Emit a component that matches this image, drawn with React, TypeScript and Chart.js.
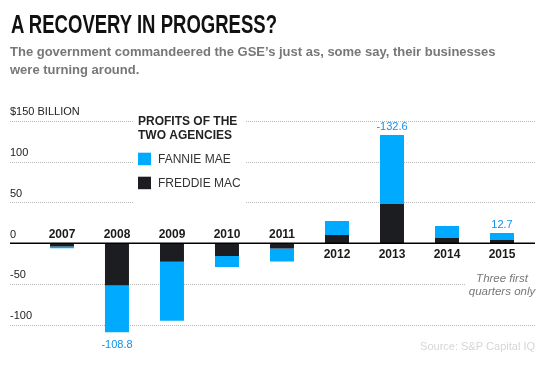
import React, { useEffect, useLayoutEffect, useRef } from 'react';
import { Chart, registerables } from 'chart.js';

Chart.register(...registerables);

// ---------- data ----------
const years = ['2007', '2008', '2009', '2010', '2011', '2012', '2013', '2014', '2015'];
const freddieMac = [-3.8, -51.5, -22.5, -15.5, -6.5, 10.1, 48.0, 6.5, 4.0];
const fannieMae = [-2.4, -57.3, -72.3, -13.5, -15.9, 17.1, 84.6, 14.6, 8.7];
const valueLabels = ['', '-108.8', '', '', '', '', '-132.6', '', '12.7'];
const yTicks = [-100, -50, 0, 50, 100, 150];
const yTickLabels = ['-100', '-50', '0', '50', '100', '$150 BILLION'];
const seriesNames = ['FREDDIE MAC', 'FANNIE MAE'];
const legendTitle = ['PROFITS OF THE', 'TWO AGENCIES'];
const noteLines = ['Three first', 'quarters only'];
const noteIndex = 8;
const titleText = 'A RECOVERY IN PROGRESS?';
const subtitleLines = [
  'The government commandeered the GSE\u2019s just as, some say, their businesses',
  'were turning around.',
];
const sourceText = 'Source: S&P Capital IQ';

// ---------- styles ----------
const FONT = "'Liberation Sans', Arial, Helvetica, sans-serif";
const BLUE = '#00aaff';
const BLACK = '#1c1d21';
const LABEL_BLUE = '#1192e8';
const GRID = '#b8b8b8';

const overlayPlugin = {
  id: 'overlay',
  beforeDatasetsDraw(chart: any) {
    const { ctx, chartArea, scales } = chart;
    const ys = scales.y;
    const xs = scales.x;
    ctx.save();
    ctx.strokeStyle = GRID;
    ctx.lineWidth = 1;
    ctx.setLineDash([1, 1]);
    yTicks.forEach((v) => {
      if (v === 0) return;
      const py = Math.round(ys.getPixelForValue(v)) + 0.5;
      ctx.beginPath();
      ctx.moveTo(chartArea.left, py);
      ctx.lineTo(chartArea.right, py);
      ctx.stroke();
    });
    ctx.setLineDash([]);
    // white backgrounds of legend and note
    ctx.fillStyle = '#ffffff';
    const lx = chartArea.left + 128;
    ctx.fillRect(lx - 5, 108, 113, 97);
    const nx = xs.getPixelForValue(noteIndex);
    const y0 = ys.getPixelForValue(0);
    ctx.fillRect(nx - 36, y0 + 26, 74, 30);
    ctx.restore();
  },
  afterDatasetsDraw(chart: any) {
    const { ctx, chartArea, scales } = chart;
    const ys = scales.y;
    const xs = scales.x;
    const y0 = ys.getPixelForValue(0);
    ctx.save();
    // zero line
    ctx.strokeStyle = '#000';
    ctx.lineWidth = 1.5;
    ctx.beginPath();
    ctx.moveTo(chartArea.left, y0);
    ctx.lineTo(chartArea.right, y0);
    ctx.stroke();

    // year labels
    ctx.font = `bold 12px ${FONT}`;
    ctx.fillStyle = '#1a1a1a';
    ctx.textAlign = 'center';
    ctx.textBaseline = 'alphabetic';
    years.forEach((yr, i) => {
      const total = freddieMac[i] + fannieMae[i];
      const px = xs.getPixelForValue(i);
      const py = total < 0 ? y0 - 5.6 : y0 + 15;
      ctx.fillText(yr, px, py);
    });

    // value labels
    ctx.font = `11px ${FONT}`;
    ctx.fillStyle = LABEL_BLUE;
    valueLabels.forEach((t, i) => {
      if (!t) return;
      const total = freddieMac[i] + fannieMae[i];
      const px = xs.getPixelForValue(i);
      const py = ys.getPixelForValue(total);
      ctx.textBaseline = 'alphabetic';
      ctx.fillText(t, px, total < 0 ? py + 16 : py - 5);
    });

    // note
    ctx.font = `italic 11.5px ${FONT}`;
    ctx.fillStyle = '#777';
    ctx.textAlign = 'center';
    const nx = xs.getPixelForValue(noteIndex);
    noteLines.forEach((t, k) => ctx.fillText(t, nx, y0 + 38.3 + k * 13.5));

    // legend
    const lx = chartArea.left + 128;
    ctx.textAlign = 'left';
    ctx.font = `bold 12px ${FONT}`;
    ctx.fillStyle = '#222';
    legendTitle.forEach((t, k) => ctx.fillText(t, lx, 125 + k * 13.7));
    const order = [1, 0];
    order.forEach((di, k) => {
      const ds = chart.data.datasets[di];
      ctx.fillStyle = ds.backgroundColor;
      ctx.fillRect(lx, 152.7 + k * 24, 13, 12.5);
      ctx.font = `12px ${FONT}`;
      ctx.fillStyle = '#333';
      ctx.fillText(ds.label, lx + 20, 162.5 + k * 24.3);
    });

    // source
    ctx.font = `11px ${FONT}`;
    ctx.fillStyle = '#d6d6d6';
    ctx.textAlign = 'right';
    ctx.fillText(sourceText, chartArea.right, 350);
    ctx.restore();
  },
};

export default function App() {
  const canvasRef = useRef<HTMLCanvasElement | null>(null);
  const titleRef = useRef<HTMLSpanElement | null>(null);

  useLayoutEffect(() => {
    const el = titleRef.current;
    if (!el) return;
    el.style.transform = 'none';
    const w = el.getBoundingClientRect().width;
    if (w > 0) el.style.transform = `scaleX(${266 / w})`;
  }, []);

  useEffect(() => {
    if (!canvasRef.current) return;
    const chart = new Chart(canvasRef.current, {
      type: 'bar',
      data: {
        datasets: [
          {
            label: seriesNames[0],
            data: freddieMac.map((v, i) => ({ x: i, y: v })),
            backgroundColor: BLACK,
            borderWidth: 0,
            stack: 's',
          },
          {
            label: seriesNames[1],
            data: fannieMae.map((v, i) => ({ x: i, y: v })),
            backgroundColor: BLUE,
            borderWidth: 0,
            stack: 's',
          },
        ],
      },
      plugins: [overlayPlugin],
      options: {
        animation: false,
        responsive: false,
        devicePixelRatio: 1,
        layout: { padding: { left: 10, right: 10, top: 108.5, bottom: 21.4 } },
        categoryPercentage: 1,
        barPercentage: 0.727,
        plugins: {
          legend: { display: false },
          tooltip: { enabled: false },
          title: { display: false },
        },
        scales: {
          x: {
            type: 'linear',
            min: -0.945,
            max: 8.6,
            offset: false,
            stacked: true,
            display: false,
            grid: { display: false, offset: false },
          },
          y: {
            type: 'linear',
            min: -135,
            max: 165,
            stacked: true,
            display: true,
            border: { display: false },
            grid: { display: false, drawTicks: false },
            afterBuildTicks: (scale: any) => {
              scale.ticks = yTicks.map((v) => ({ value: v }));
            },
            ticks: {
              mirror: true,
              padding: 0,
              labelOffset: -8.8,
              color: '#222',
              font: { family: FONT, size: 11 },
              callback: (value: any) => {
                const idx = yTicks.indexOf(Number(value));
                return idx >= 0 ? yTickLabels[idx] : '';
              },
            },
          },
        },
      } as any,
    });
    return () => chart.destroy();
  }, []);

  return (
    <div style={{ position: 'absolute', left: 0, top: 0, width: 545, height: 375, background: '#fff', overflow: 'hidden' }}>
      <canvas ref={canvasRef} width={545} height={375} style={{ position: 'absolute', left: 0, top: 0, width: 545, height: 375 }} />
      <div style={{ position: 'absolute', left: 11, top: 12, whiteSpace: 'nowrap', lineHeight: '25px' }}>
        <span
          ref={titleRef}
          style={{
            display: 'inline-block',
            transformOrigin: 'left center',
            fontFamily: "'Liberation Sans', Arial, sans-serif",
            fontWeight: 'bold',
            fontSize: 25,
            color: '#111',
          }}
        >
          {titleText}
        </span>
      </div>
      <div
        style={{
          position: 'absolute',
          left: 10,
          top: 43,
          fontFamily: FONT,
          fontWeight: 'bold',
          fontSize: 13,
          lineHeight: '18px',
          color: '#777',
          whiteSpace: 'nowrap',
        }}
      >
        {subtitleLines.map((l, i) => (
          <div key={i}>{l}</div>
        ))}
      </div>
    </div>
  );
}
